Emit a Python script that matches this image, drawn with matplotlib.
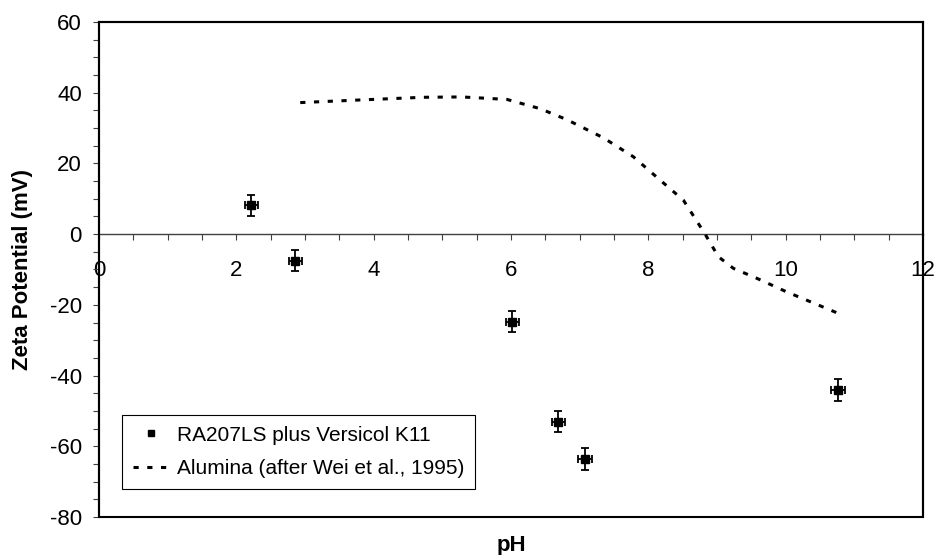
import numpy as np
import matplotlib.pyplot as plt
from matplotlib.patches import Rectangle
from matplotlib.ticker import MultipleLocator

plt.rcParams['font.family'] = ['Liberation Sans', 'DejaVu Sans']
plt.rcParams['axes.unicode_minus'] = False

# measured zeta potential, RA207LS plus Versicol K11
ph_pomiar = [2.22, 2.86, 6.02, 6.69, 7.08, 10.76]
zeta_pomiar = [8.2, -7.5, -24.8, -53.1, -63.6, -44.1]
blad_ph = [0.1, 0.1, 0.1, 0.1, 0.1, 0.1]
blad_zeta = [3.0, 3.0, 3.0, 3.0, 3.0, 3.0]

# alumina curve (after Wei et al., 1995)
ph_alumina = [2.93, 3.75, 4.72, 5.28, 5.94, 6.42, 6.81, 7.34, 7.78, 8.17,
              8.51, 8.82, 9.02, 9.24, 9.58, 10.01, 10.74]
zeta_alumina = [37.2, 37.9, 38.7, 38.8, 38.1, 35.5, 32.4, 27.3, 21.9, 15.3,
                9.6, 0.2, -6.4, -9.7, -12.5, -16.3, -22.2]

fig = plt.figure(figsize=(9.37, 5.55), dpi=100)
ax = fig.add_axes([0.1057, 0.0685, 0.8794, 0.8919])

ax.errorbar(ph_pomiar, zeta_pomiar, xerr=blad_ph, yerr=blad_zeta, fmt='none',
            ecolor='black', elinewidth=1.3, capsize=2.7, capthick=1.3, zorder=3)
ax.plot(ph_pomiar, zeta_pomiar, 's', color='black', markersize=6,
        label='RA207LS plus Versicol K11', zorder=4)
ax.plot(ph_alumina, zeta_alumina, color='black', linewidth=2.2,
        linestyle=(0, (1.7, 2.8)), label='Alumina (after Wei et al., 1995)', zorder=3)

ax.set_xlim(0, 12)
ax.set_ylim(-80, 60)
ax.xaxis.set_major_locator(MultipleLocator(2))
ax.xaxis.set_minor_locator(MultipleLocator(0.5))
ax.yaxis.set_major_locator(MultipleLocator(20))
ax.yaxis.set_minor_locator(MultipleLocator(5))

# os X przecina os Y w zerze (jak w Excelu)
ax.spines['bottom'].set_position(('data', 0))
ax.spines['bottom'].set_linewidth(1.0)
ax.spines['bottom'].set_color('#404040')
for s in ['left', 'right', 'top']:
    ax.spines[s].set_linewidth(1.5)
    ax.spines[s].set_color('black')
ax.add_patch(Rectangle((0, 0), 1, 1, transform=ax.transAxes, fill=False,
                       edgecolor='black', linewidth=1.5, clip_on=False, zorder=5))

ax.tick_params(axis='x', which='both', direction='out', length=4.3, width=0.8,
               color='#404040', labelsize=16, pad=14)
ax.tick_params(axis='y', which='both', direction='out', length=4.3, width=0.8,
               color='#404040', labelsize=16, pad=8)

ax.set_xlabel('pH', fontsize=16, fontweight='bold')
ax.set_ylabel('Zeta Potential (mV)', fontsize=16, fontweight='bold')
ax.xaxis.set_label_coords(0.5, -0.036)
ax.yaxis.set_label_coords(-0.08, 0.5)

leg = ax.legend(loc='lower left', bbox_to_anchor=(0.028, 0.057), borderaxespad=0,
                fontsize=15, frameon=True, fancybox=False, shadow=False,
                handlelength=1.8, handletextpad=0.35, borderpad=0.5,
                labelspacing=0.7, markerscale=0.75)
leg.get_frame().set_edgecolor('black')
leg.get_frame().set_linewidth(0.8)
leg.get_frame().set_alpha(1)

fig.savefig('out.png', dpi=100)
